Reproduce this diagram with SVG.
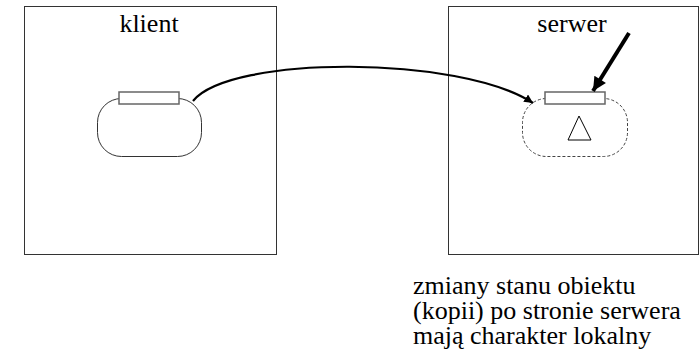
<svg xmlns="http://www.w3.org/2000/svg" width="700" height="356" viewBox="0 0 700 356">
<style>
.box{fill:#fff;stroke:#333;stroke-width:1}
.t{font-family:'Liberation Serif','Times New Roman',serif;font-size:26px;fill:#000}
.obj{fill:none;stroke:#333;stroke-width:1}
.dash{fill:none;stroke:#444;stroke-width:1;stroke-dasharray:3,2}
.port{fill:#fff;stroke:#666;stroke-width:1.5}
</style>
<defs>
<marker id="ah" viewBox="0 0 10 10" refX="10" refY="5" markerWidth="4" markerHeight="4" orient="auto" markerUnits="strokeWidth">
<path d="M0,0 L10,5 L0,10 z" fill="#000"/>
</marker>
<marker id="ahb" viewBox="0 0 10 10" refX="10" refY="5" markerWidth="4.5" markerHeight="3.4" orient="auto" markerUnits="strokeWidth">
<path d="M0,0 L10,5 L0,10 z" fill="#000"/>
</marker>
</defs>
<g id="klient">
<rect class="box" x="24.5" y="6.5" width="252" height="248"/>
<text class="t" x="149" y="32" text-anchor="middle">klient</text>
<rect class="obj" x="97.5" y="98.5" width="104" height="58" rx="24" ry="24"/>
<rect class="port" x="119" y="92" width="60" height="12"/>
</g>
<g id="serwer">
<rect class="box" x="448.5" y="6.5" width="250" height="248"/>
<text class="t" x="572" y="32" text-anchor="middle">serwer</text>
<rect class="dash" x="522.5" y="98.5" width="105" height="58" rx="24" ry="24"/>
<rect class="port" x="545" y="92" width="60" height="12"/>
<path d="M579,116 L568,140 L591,140 Z" fill="#fff" stroke="#000" stroke-width="1"/>
</g>
<g id="connectors">
<path d="M193,101 C230,55 460,55 533,103" fill="none" stroke="#000" stroke-width="2.2" marker-end="url(#ah)"/>
<path d="M629,33 L593,91" fill="none" stroke="#000" stroke-width="4" marker-end="url(#ahb)"/>
</g>
<g id="note">
<text class="t" x="413" y="294">zmiany stanu obiektu</text>
<text class="t" x="413" y="319">(kopii) po stronie serwera</text>
<text class="t" x="413" y="344">mają charakter lokalny</text>
</g>
</svg>
